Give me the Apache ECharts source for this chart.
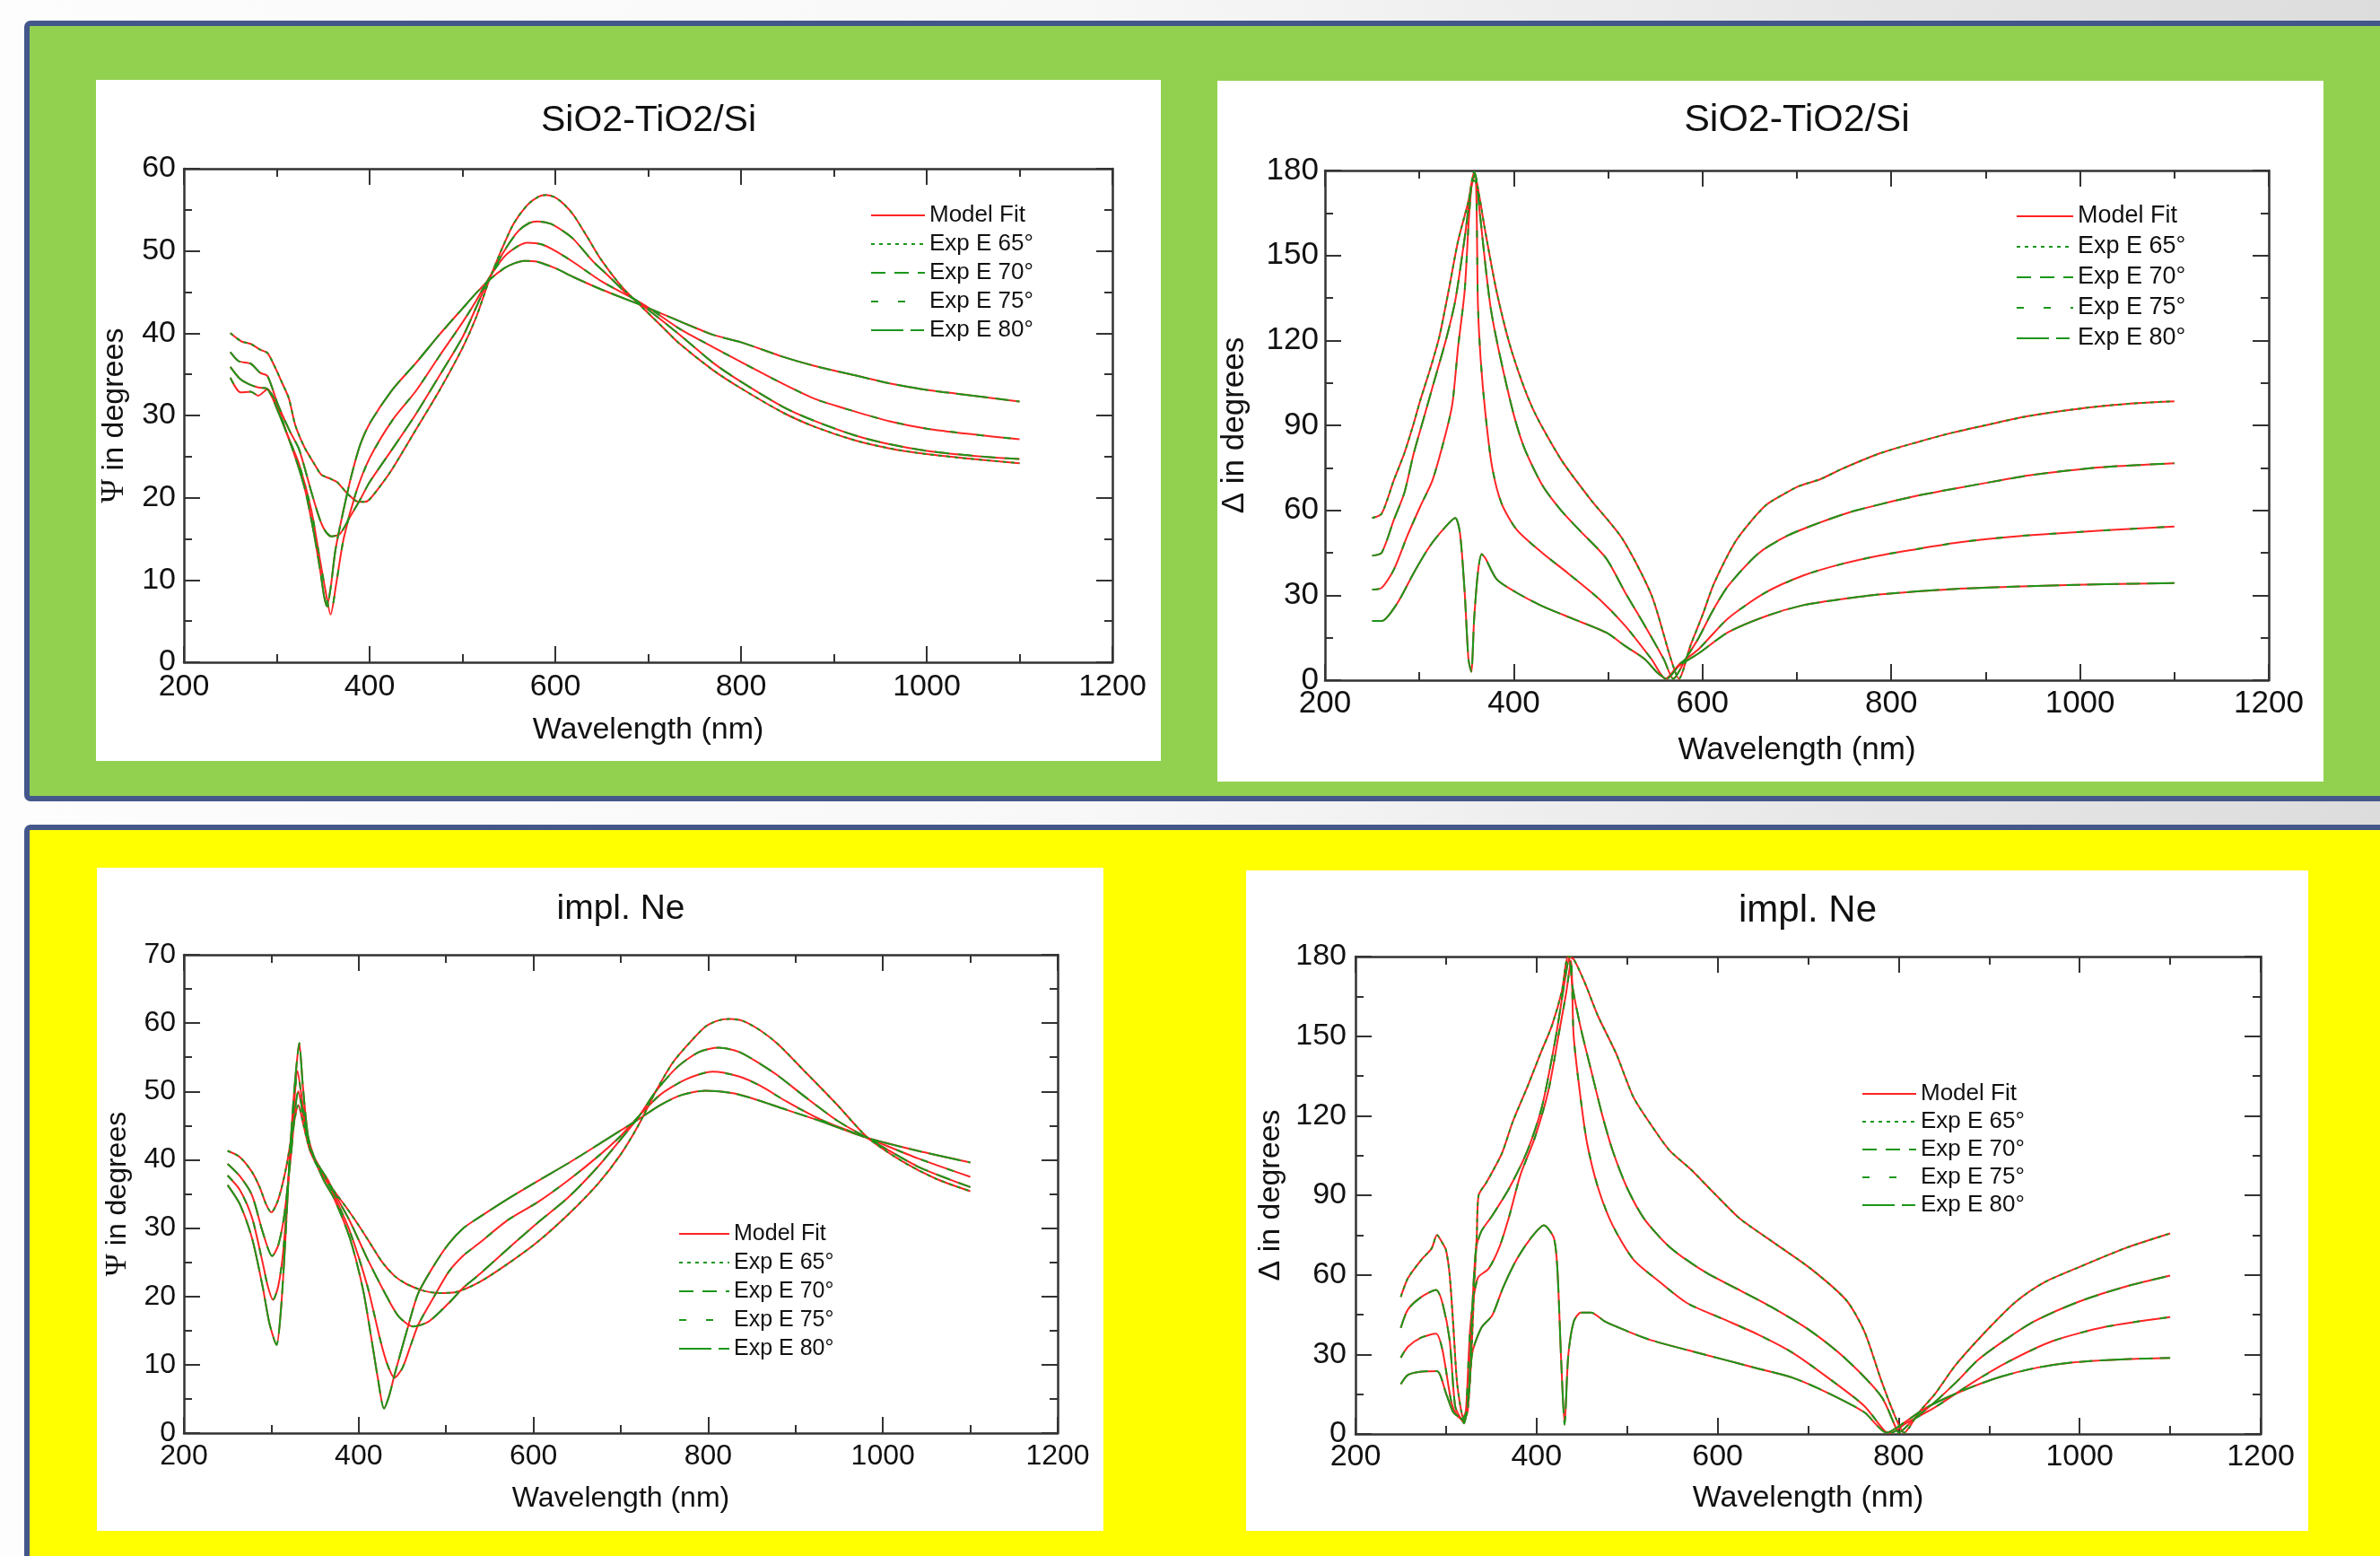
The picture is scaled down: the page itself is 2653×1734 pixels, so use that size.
<!DOCTYPE html>
<html>
<head>
<meta charset="utf-8">
<script src="https://cdn.jsdelivr.net/npm/echarts@6/dist/echarts.min.js"></script>
<style>
html,body{margin:0;padding:0;width:2653px;height:1734px;overflow:hidden;}
body{background:linear-gradient(to right,#fdfdfd 0%,#f8f8f8 45%,#dcdcdc 100%);position:relative;}
.panel{position:absolute;box-sizing:border-box;border:6px solid #44578a;border-radius:7px;}
.white{position:absolute;background:#ffffff;}
#chart{position:absolute;left:0;top:0;width:2653px;height:1734px;}
</style>
</head>
<body>
<div class="panel" style="left:27px;top:23px;width:2700px;height:870px;background:#92d050;"></div>
<div class="panel" style="left:27px;top:919px;width:2700px;height:900px;background:#ffff00;"></div>
<div class="white" style="left:107px;top:89px;width:1187px;height:759px;"></div>
<div class="white" style="left:1357px;top:90px;width:1233px;height:781px;"></div>
<div class="white" style="left:108px;top:967px;width:1122px;height:739px;"></div>
<div class="white" style="left:1389px;top:970px;width:1184px;height:736px;"></div>
<div id="chart"></div>
<script>
// ---------- axis / legend text ----------
const xTitle = 'Wavelength (nm)';
const titles = ['SiO2-TiO2/Si', 'SiO2-TiO2/Si', 'impl. Ne', 'impl. Ne'];
const yTitles = ['{s|Ψ} in degrees', 'Δ in degrees', '{s|Ψ} in degrees', 'Δ in degrees'];
const legendNames = ['Model Fit', 'Exp E 65°', 'Exp E 70°', 'Exp E 75°', 'Exp E 80°'];
const xRange = [200, 1200, 200];          // min, max, interval
const yRanges = [[0, 60, 10], [0, 180, 30], [0, 70, 10], [0, 180, 30]];

// ---------- Chart 1: Psi, SiO2-TiO2/Si  [wavelength nm, degrees] ----------
const psiSi65 = [[250,40.0],[262,39.0],[272,38.7],[282,38.0],[290,37.6],[298,35.9],[306,33.9],[313,32.1],[320,28.8],[330,26.1],[340,24.2],[348,22.8],[358,22.3],[365,21.9],[377,20.4],[388,19.5],[395,19.5],[400,19.8],[412,21.5],[425,23.6],[450,28.3],[475,33.0],[500,38.2],[515,42.0],[528,46.2],[540,49.6],[555,53.3],[570,55.6],[582,56.6],[590,56.8],[600,56.5],[610,55.6],[620,54.3],[635,51.6],[649,49.0],[672,45.6],[695,43.0],[715,40.8],[733,38.8],[770,35.5],[800,33.3],[846,30.3],[880,28.6],[922,27.0],[960,26.0],[1000,25.3],[1050,24.7],[1100,24.2]];
const psiSi70 = [[250,37.7],[259,36.6],[272,36.3],[282,35.2],[290,34.8],[301,31.4],[314,28.1],[324,25.9],[337,20.8],[346,17.5],[352,16.0],[359,15.3],[368,15.6],[378,17.5],[390,19.8],[400,21.9],[425,26.0],[450,30.2],[475,34.8],[500,39.5],[515,43.2],[528,46.5],[545,50.0],[560,52.4],[572,53.4],[581,53.6],[595,53.3],[610,52.3],[620,51.4],[640,48.8],[657,47.0],[675,45.0],[695,43.3],[733,39.9],[770,36.4],[800,34.1],[846,31.0],[880,29.3],[922,27.6],[960,26.5],[1000,25.7],[1050,25.1],[1100,24.7]];
const psiSi75 = [[250,34.6],[261,32.8],[272,32.9],[280,32.4],[290,33.2],[301,31.0],[312,27.5],[324,24.1],[337,18.6],[346,12.8],[352,9.0],[358,5.8],[364,9.5],[372,15.0],[385,20.5],[400,24.8],[425,29.5],[450,33.0],[475,37.2],[500,41.3],[515,44.0],[528,46.6],[545,49.3],[560,50.6],[570,51.0],[585,50.8],[600,50.0],[620,48.6],[650,46.3],[695,43.5],[733,40.6],[770,38.3],[800,36.5],[846,33.8],[880,32.0],[922,30.5],[960,29.3],[1000,28.4],[1050,27.7],[1100,27.1]];
const psiSi80 = [[250,35.9],[260,34.5],[270,33.8],[280,33.4],[289,33.3],[301,30.6],[317,25.9],[330,21.2],[340,15.7],[347,11.0],[351,8.0],[354,6.8],[358,9.0],[363,13.5],[370,17.5],[380,22.5],[390,26.5],[401,29.2],[425,33.2],[450,36.4],[475,39.8],[500,43.0],[515,44.9],[528,46.4],[545,47.9],[556,48.5],[566,48.8],[580,48.7],[600,47.9],[620,46.8],[650,45.3],[695,43.3],[733,41.5],[770,39.8],[800,38.9],[846,37.1],[880,36.0],[922,34.9],[960,33.9],[1000,33.1],[1050,32.4],[1100,31.7]];

// ---------- Chart 2: Delta, SiO2-TiO2/Si ----------
const delSi65 = [[250,57.3],[260,58.8],[273,70.7],[284,80.1],[294,90.7],[301,98.9],[311,109.4],[321,121.1],[331,137.6],[341,155.1],[352,169.2],[358,179.5],[364,170],[369,160],[382,137],[398,116],[420,96],[450,78],[481,64],[515,50],[546,30],[566,8],[575,0.5],[587,12],[600,23],[612,34],[634,48.5],[651,56],[668,62],[685,65.5],[702,68.5],[725,71],[747,74.5],[787,80],[827,84],[866,87.5],[906,90.5],[946,93.3],[986,95.3],[1026,96.9],[1065,97.9],[1100,98.5]];
const delSi70 = [[250,44],[260,45],[273,56.7],[284,66.1],[294,80.1],[304,91.8],[314,103.6],[328,120],[338,134],[348,156.3],[355,174],[359,179],[364,165],[376,130.5],[396,99],[410,83],[430,69],[450,60],[471,52.5],[498,43],[518,31],[539,19.2],[559,7.4],[569,0.5],[583,8],[596,15],[610,24],[627,33.2],[659,44.7],[691,51.2],[723,55.5],[755,59.2],[787,62],[827,65.1],[866,67.6],[906,70],[946,72.3],[986,74],[1026,75.3],[1100,76.6]];
const delSi75 = [[250,32],[260,32.6],[273,39.1],[287,50.8],[301,61.4],[314,70.7],[328,87.2],[335,97.7],[341,117.6],[348,137.6],[353,165.7],[357,176.5],[360,176],[362,133],[365,113],[370,94],[377,75.4],[387,62.5],[403,53.2],[430,45],[457,37.9],[491,28.5],[518,19.2],[546,7.4],[561,0.5],[575,5.5],[596,11],[627,21.8],[667,31],[707,37],[747,41],[787,44],[827,46.3],[866,48.4],[906,50],[946,51.2],[1026,52.9],[1100,54.3]];
const delSi80 = [[250,20.9],[260,20.9],[277,27.4],[294,37.9],[311,47.3],[328,54.3],[338,57.3],[343,52],[348,31],[352,7.4],[355,3],[358,21.5],[362,38],[366,44.5],[370,43],[382,35.6],[403,30.9],[430,26.2],[464,21.5],[498,16.8],[518,12.1],[539,7.4],[552,2.7],[562,0.5],[575,5],[596,9.5],[627,16.9],[667,22.6],[707,26.5],[747,28.6],[787,30.3],[866,32.2],[946,33.2],[1026,33.9],[1100,34.3]];

// ---------- Chart 3: Psi, impl. Ne ----------
const psiNe65 = [[250,41.3],[264,40.4],[278,38.2],[287,35.9],[294,33.5],[300,32.3],[306,33.5],[312,36.0],[318,39.5],[324,44.0],[331,48.0],[337,45.0],[344,41.5],[352,39.5],[362,37.3],[372,35.4],[386,33.0],[400,30.4],[414,27.6],[427,25.0],[441,23.0],[455,21.8],[475,20.8],[492,20.5],[510,20.6],[537,22.0],[571,24.8],[605,28.0],[640,32.0],[674,36.5],[700,40.8],[720,45.0],[740,50.0],[760,54.3],[780,57.3],[797,59.5],[812,60.4],[824,60.6],[840,60.3],[860,58.9],[880,56.9],[910,53.0],[948,48.0],[982,43.3],[1023,39.7],[1061,37.2],[1100,35.4]];
const psiNe70 = [[250,39.4],[264,37.6],[278,34.8],[290,29.5],[301,25.9],[308,27.5],[315,32.0],[322,40.0],[331,50.0],[338,45.5],[345,41.5],[355,39.0],[365,37.0],[372,35.2],[390,31.0],[410,25.5],[430,20.5],[445,17.2],[462,15.6],[480,16.3],[503,19.0],[520,21.3],[537,23.1],[571,27.0],[605,30.8],[640,34.5],[674,39.0],[700,43.0],[720,46.2],[740,50.0],[765,53.6],[790,55.8],[812,56.4],[835,55.8],[860,54.0],[880,52.3],[910,49.3],[948,45.7],[982,43.2],[1040,39.0],[1100,36.0]];
const psiNe75 = [[250,37.7],[264,35.6],[278,31.5],[290,25.0],[296,21.5],[302,19.5],[308,21.5],[314,27.0],[320,38.0],[325,46.0],[330,53.0],[336,48.0],[344,41.5],[355,38.5],[365,36.5],[372,34.8],[390,29.5],[410,21.5],[425,13.5],[433,10.0],[441,8.1],[450,9.5],[460,13.0],[468,15.8],[486,19.9],[503,23.6],[520,26.0],[537,27.7],[571,31.2],[605,33.8],[640,37.0],[674,40.5],[700,43.5],[720,46.3],[745,49.5],[775,51.8],[805,52.9],[835,52.2],[860,50.8],[890,48.5],[930,45.8],[982,43.2],[1040,40.2],[1100,37.5]];
const psiNe80 = [[250,36.3],[264,33.5],[278,28.5],[290,21.5],[298,16.0],[306,12.9],[311,18.0],[316,28.0],[320,38.0],[325,48.0],[329,54.0],[332,57.1],[336,51.0],[342,43.5],[350,40.0],[360,37.0],[372,34.3],[390,28.5],[405,21.0],[415,13.5],[422,8.0],[429,3.6],[435,5.5],[441,8.5],[455,14.9],[468,20.4],[486,24.5],[503,27.7],[520,30.0],[537,31.5],[571,34.3],[605,36.9],[640,39.5],[674,42.2],[700,44.3],[720,45.9],[745,48.0],[770,49.5],[797,50.1],[830,49.7],[860,48.6],[890,47.3],[930,45.6],[982,43.2],[1040,41.3],[1100,39.6]];

// ---------- Chart 4: Delta, impl. Ne ----------
const delNe65 = [[250,51.7],[258,58.8],[273,65.8],[284,69.9],[290,75],[296,72],[300,69.3],[304,60],[308,41],[312,20],[317,8.2],[320,5.3],[324,9],[328,30],[331,55],[334,75],[336,90],[344,94.5],[351,98.7],[362,106],[374,118],[390,131],[405,144],[417,154],[428,167],[435,180],[441,179],[453,170.4],[468,157.5],[488,143.4],[507,127],[527,116.3],[547,106.9],[570,99.9],[597,90.5],[625,81.1],[664,71.7],[703,62.3],[742,50.5],[762,38.8],[781,20],[797,5.9],[806,0.5],[822,8],[840,15],[863,26],[900,40],[930,50],[960,57],[1000,63],[1050,70],[1100,75.6]];
const delNe70 = [[250,40],[258,47],[273,51.7],[289,54.3],[296,49.4],[304,35.3],[310,10.6],[316,6],[320,5],[325,15],[329,47],[333,69.3],[339,76.4],[351,82.3],[370,92.8],[390,106.9],[406,123.4],[421,149.2],[431,170.4],[436,179.5],[440,168],[449,152.8],[460,137.5],[472,121],[484,106.9],[500,92.8],[519,81.1],[547,70.5],[586,61.1],[625,54.1],[664,47],[703,38.8],[742,28.2],[781,14.1],[797,2.3],[800,0.5],[815,5],[840,12],[865,20],[888,28],[920,36],[950,42.5],[1000,50],[1050,55.5],[1100,59.7]];
const delNe75 = [[250,28.8],[258,32.9],[273,36.4],[289,37.8],[296,31.7],[306,11.8],[312,7],[318,5.5],[322,9],[327,41],[335,58.8],[347,62.3],[359,70.5],[370,82.3],[382,97.5],[398,111.6],[413,129.3],[425,151.6],[433,166.9],[438,178.5],[441,150],[449,125.7],[456,109.3],[468,92.8],[484,78.7],[507,65.8],[535,57.6],[566,49.4],[605,43.5],[644,37.6],[683,30.6],[722,21.2],[762,10.6],[785,1],[792,0.5],[808,4],[840,10],[880,19],[920,27],[970,35],[1030,40.5],[1100,44.1]];
const delNe80 = [[250,18.8],[258,22.3],[273,23.5],[290,23.7],[300,15.3],[308,8.2],[316,5.9],[320,4],[325,15],[329,30.6],[339,40],[351,44.7],[363,55.2],[378,65.8],[394,74],[408,78.7],[419,74],[423,62.3],[427,29.4],[431,3.5],[435,29.4],[441,42.3],[449,45.8],[460,45.8],[476,42.3],[500,38.8],[527,35.3],[566,31.7],[605,28.2],[644,24.7],[683,21.2],[723,15.3],[762,8.2],[787,0.5],[805,4],[831,10],[872,16.5],[912,21.5],[953,25],[993,27],[1050,28.2],[1100,28.7]];

const chartData = [
  [psiSi65, psiSi70, psiSi75, psiSi80],
  [delSi65, delSi70, delSi75, delSi80],
  [psiNe65, psiNe70, psiNe75, psiNe80],
  [delNe65, delNe70, delNe75, delNe80]
];

// ---------- layout & style (kept apart from the data) ----------
const FONT = '"Liberation Sans", Arial, Helvetica, sans-serif';
const RED = '#ff2424';
const GREEN = '#1b961b';
const AXIS = '#333333';
const dashes = [[4, 5], [16, 10], [8, 22], [36, 8, 15, 8]];
const layout = [
  {grid:{left:205, top:188, width:1035, height:550}, fs:34, tfs:41, tx:723, ty:114, xGap:59, yGap:59, xm:11, ym:9,
   lg:{left:970, top:226, w:60, gap:4, fs:26}},
  {grid:{left:1477, top:190, width:1052, height:568}, fs:35, tfs:43, tx:2003, ty:113, xGap:61, yGap:83, xm:9, ym:7,
   lg:{left:2247, top:227, w:63, gap:6, fs:27}},
  {grid:{left:205, top:1064, width:974, height:533}, fs:32, tfs:39, tx:692, ty:994, xGap:57, yGap:57, xm:10, ym:9,
   lg:{left:756, top:1361, w:56, gap:4, fs:25}},
  {grid:{left:1511, top:1066, width:1009, height:532}, fs:34, tfs:42, tx:2015, ty:994, xGap:55, yGap:77, xm:9, ym:10,
   lg:{left:2075, top:1205, w:60, gap:3, fs:26}}
];

const grid = [], xAxis = [], yAxis = [], title = [], legend = [], redSeries = [], greenSeries = [];
const lineAxis = {show:true, onZero:false, lineStyle:{color:AXIS, width:2.5}};
const tickOpt = {show:true, inside:true, length:18, lineStyle:{color:AXIS, width:2}};
const minorOpt = {show:true, splitNumber:2, length:9, lineStyle:{color:AXIS, width:2}};
const plain = v => String(v);

layout.forEach((L, k) => {
  grid.push(Object.assign({containLabel:false}, L.grid));
  const yr = yRanges[k];
  const txt = {fontSize:L.fs, color:'#111', fontFamily:FONT};
  xAxis.push({gridIndex:k, type:'value', position:'bottom', min:xRange[0], max:xRange[1], interval:xRange[2],
    name:xTitle, nameLocation:'middle', nameGap:L.xGap, nameTextStyle:txt,
    axisLine:lineAxis, axisTick:tickOpt, minorTick:minorOpt, splitLine:{show:false},
    axisLabel:Object.assign({margin:L.xm, formatter:plain}, txt)});
  xAxis.push({gridIndex:k, type:'value', position:'top', min:xRange[0], max:xRange[1], interval:xRange[2],
    axisLine:lineAxis, axisTick:tickOpt, minorTick:minorOpt, splitLine:{show:false}, axisLabel:{show:false}});
  yAxis.push({gridIndex:k, type:'value', position:'left', min:yr[0], max:yr[1], interval:yr[2],
    name:yTitles[k], nameLocation:'middle', nameGap:L.yGap,
    nameTextStyle:Object.assign({rich:{s:{fontFamily:'"Liberation Serif", "DejaVu Serif", serif', fontSize:L.fs+2, color:'#111'}}}, txt),
    axisLine:lineAxis, axisTick:tickOpt, minorTick:minorOpt, splitLine:{show:false},
    axisLabel:Object.assign({margin:L.ym, formatter:plain}, txt)});
  yAxis.push({gridIndex:k, type:'value', position:'right', min:yr[0], max:yr[1], interval:yr[2],
    axisLine:lineAxis, axisTick:tickOpt, minorTick:minorOpt, splitLine:{show:false}, axisLabel:{show:false}});
  title.push({text:titles[k], left:L.tx, top:L.ty, textAlign:'center', padding:0,
    textStyle:{fontSize:L.tfs, fontWeight:'normal', color:'#111', fontFamily:FONT, lineHeight:L.tfs}});
  legend.push({data:legendNames, orient:'vertical', left:L.lg.left, top:L.lg.top, padding:0,
    itemWidth:L.lg.w, itemHeight:14, itemGap:L.lg.gap, selectedMode:false,
    itemStyle:{opacity:0},
    textStyle:{fontSize:L.lg.fs, lineHeight:28, color:'#111', fontFamily:FONT}});
  chartData[k].forEach((d, i) => {
    redSeries.push({type:'line', name:legendNames[0], data:d, xAxisIndex:2*k, yAxisIndex:2*k,
      symbol:'none', showSymbol:false, silent:true, z:2, smooth:0.25,
      lineStyle:{color:RED, width:2, type:'solid'}, itemStyle:{color:RED}});
    greenSeries.push({type:'line', name:legendNames[i+1], data:d, xAxisIndex:2*k, yAxisIndex:2*k,
      symbol:'none', showSymbol:false, silent:true, z:3, smooth:0.25,
      lineStyle:{color:GREEN, width:2, type:dashes[i]}, itemStyle:{color:GREEN}});
  });
});

const chart = echarts.init(document.getElementById('chart'), null, {renderer:'canvas'});
chart.setOption({
  animation:false,
  backgroundColor:'transparent',
  title, legend, grid, xAxis, yAxis,
  series: redSeries.concat(greenSeries)
});
</script>
</body>
</html>
